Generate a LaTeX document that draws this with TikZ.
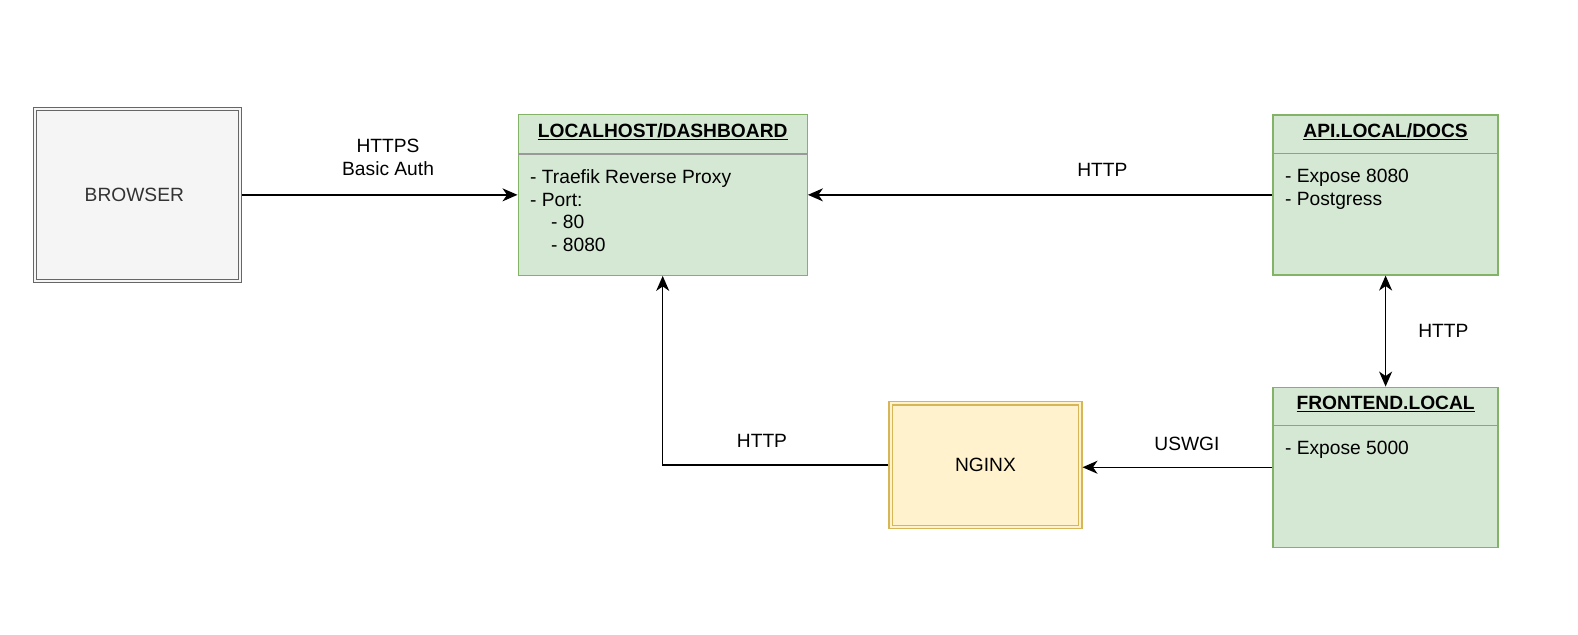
\documentclass[tikz,border=0pt]{standalone}
\usepackage{fontspec}
\setmainfont{Liberation Sans}
\usetikzlibrary{positioning,calc,arrows.meta}

\definecolor{boxgreen}{HTML}{D5E8D4}
\definecolor{linegreen}{HTML}{82B366}
\definecolor{boxyellow}{HTML}{FFF2CC}
\definecolor{lineyellow}{HTML}{D6B656}
\definecolor{boxgray}{HTML}{F5F5F5}
\definecolor{linegray}{HTML}{666666}
\definecolor{textgray}{HTML}{333333}
\definecolor{sepgray}{HTML}{999999}

\tikzset{
   hd/.tip={Stealth[length=15pt,width=13pt,inset=4.5pt]},
   every node/.style={font=\fontsize{19.2}{22.7}\selectfont},
   service/.style={rectangle, draw=linegreen, fill=boxgreen, line width=1.4pt,
      minimum height=160.7pt, inner sep=0pt},
   dblbox/.style n args={3}{rectangle, draw=#1, double=#2, fill=#2, text=#3,
      line width=1.3pt, double distance=2pt, outer sep=2.3pt, inner sep=0pt},
   title/.style={inner sep=0pt, anchor=base,
      font=\fontsize{19.2}{22.7}\selectfont\bfseries},
   body/.style={inner sep=0pt, anchor=north west, align=left},
   sep/.style={draw=sepgray, line width=1.4pt},
   lbl/.style={inner sep=0pt, align=center},
   wire/.style={line width=1.4pt, -hd},
   wire2/.style={line width=1.4pt, hd-hd},
}

\begin{document}
\begin{tikzpicture}
   \useasboundingbox (0,0) rectangle (1578pt,-634pt);

   % browser
   \node[dblbox={linegray}{boxgray}{textgray}, minimum width=204.9pt,
      minimum height=171.9pt] (br) at (137.35pt,-194.85pt) {BROWSER\hspace*{6pt}};

   % traefik dashboard
   \node[service, minimum width=289pt, right=275.4pt of br] (lh) {};
   \node[title] (lh-t) at ($(lh.north)+(0,-23.4pt)$) {\underline{LOCALHOST/DASHBOARD}};
   \draw[sep] ($(lh.north west)+(0.7pt,-40pt)$) -- ($(lh.north east)+(-0.7pt,-40pt)$);
   \node[body] (lh-b) at ($(lh.north west)+(12.5pt,-55.5pt)$)
      {- Traefik Reverse Proxy\\- Port:\\\hspace*{21pt}- 80\\\hspace*{21pt}- 8080};

   % api
   \node[service, minimum width=225pt, minimum height=160pt,
      right=464.5pt of lh] (api) {};
   \node[title] (api-t) at ($(api.north)+(0,-23.4pt)$) {\underline{API.LOCAL/DOCS}};
   \draw[sep] ($(api.north west)+(0.7pt,-39.5pt)$) -- ($(api.north east)+(-0.7pt,-39.5pt)$);
   \node[body] (api-b) at ($(api.north west)+(12.5pt,-54.7pt)$)
      {- Expose 8080\\- Postgress};

   % frontend
   \node[service, minimum width=225pt, minimum height=160pt,
      below=111pt of api] (fe) {};
   \node[title] (fe-t) at ($(fe.north)+(0,-22.9pt)$) {\underline{FRONTEND.LOCAL}};
   \draw[sep] ($(fe.north west)+(0.7pt,-39pt)$) -- ($(fe.north east)+(-0.7pt,-39pt)$);
   \node[body] (fe-b) at ($(fe.north west)+(12.5pt,-54.2pt)$)
      {- Expose 5000};

   % nginx
   \node[dblbox={lineyellow}{boxyellow}{black}, minimum width=189.6pt,
      minimum height=123.6pt, left=189.9pt of fe, yshift=2.25pt] (ngx) {NGINX};

   % connections
   \draw[wire] (br.east) -- node[lbl, pos=0.53, above=18.3pt] (l1) {HTTPS\\Basic Auth} (lh.west);
   \draw[wire] (api.west) -- node[lbl, pos=0.366, above=17.5pt] (l2) {HTTP} (lh.east);
   \draw[wire2] (api.south) -- node[lbl, midway, right=32pt] (l3) {HTTP} (fe.north);
   \draw[wire] (fe.west) -- node[lbl, pos=0.45, above=15.7pt] (l4) {USWGI} (fe.west -| ngx.east);
   \draw[wire] (ngx.west) -| node[lbl, pos=0.28, above=16.5pt] (l5) {HTTP} (lh.south);

\end{tikzpicture}
\end{document}
